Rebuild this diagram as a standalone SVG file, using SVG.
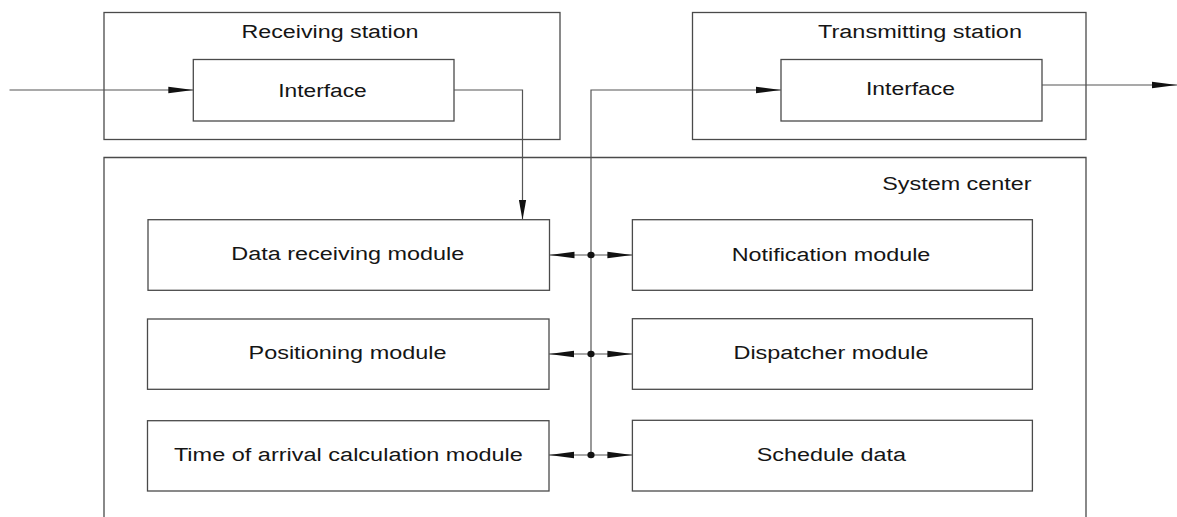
<svg xmlns="http://www.w3.org/2000/svg" width="1177" height="517" viewBox="0 0 1177 517">
  <style>
    .box { fill: none; stroke: #4a4a4a; stroke-width: 1.3; }
    .wire { fill: none; stroke: #555555; stroke-width: 1.2; }
    .lbl { font-family: "Liberation Sans", Arial, sans-serif; font-size: 17.6px; fill: #151515; text-anchor: middle; }
    .dot { fill: #111; }
  </style>
  <defs>
    <!-- wide, flat arrowhead for horizontal runs -->
    <marker id="arrowH" markerUnits="userSpaceOnUse" markerWidth="26" markerHeight="8" refX="25" refY="3.2" orient="auto-start-reverse" viewBox="0 0 26 6.4">
      <path d="M0,0 L25,3.2 L0,6.4 Z" fill="#111"/>
    </marker>
    <!-- arrowhead for the vertical drop -->
    <marker id="arrowV" markerUnits="userSpaceOnUse" markerWidth="21" markerHeight="8" refX="20" refY="3.7" orient="auto" viewBox="0 0 21 7.4">
      <path d="M0,0 L20,3.7 L0,7.4 Z" fill="#111"/>
    </marker>
  </defs>
  <rect width="1177" height="517" fill="#ffffff"/>

  <!-- Receiving station -->
  <g id="receiving-station">
    <rect class="box" x="104" y="12.5" width="456" height="127"/>
    <text class="lbl" x="330" y="38" textLength="177" lengthAdjust="spacingAndGlyphs">Receiving station</text>
  </g>
  <g id="rx-interface">
    <rect class="box" x="193.3" y="59.5" width="260.7" height="61.5"/>
    <text class="lbl" x="322.5" y="96.5" textLength="88.5" lengthAdjust="spacingAndGlyphs">Interface</text>
  </g>

  <!-- Transmitting station -->
  <g id="transmitting-station">
    <rect class="box" x="692.5" y="12.5" width="393.5" height="127"/>
    <text class="lbl" x="920" y="38" textLength="204" lengthAdjust="spacingAndGlyphs">Transmitting station</text>
  </g>
  <g id="tx-interface">
    <rect class="box" x="781" y="59.5" width="261" height="61.5"/>
    <text class="lbl" x="910.5" y="94.5" textLength="89" lengthAdjust="spacingAndGlyphs">Interface</text>
  </g>

  <!-- System center (open at the bottom) -->
  <g id="system-center">
    <path class="box" d="M104,520 V157.5 H1086 V520"/>
    <text class="lbl" x="1031.6" y="190" textLength="149.4" lengthAdjust="spacingAndGlyphs" style="text-anchor:end">System center</text>
  </g>

  <!-- Left column modules -->
  <g id="data-receiving-module">
    <rect class="box" x="148" y="219.7" width="401.5" height="70.6"/>
    <text class="lbl" x="347.8" y="260" textLength="233" lengthAdjust="spacingAndGlyphs">Data receiving module</text>
  </g>
  <g id="positioning-module">
    <rect class="box" x="147.5" y="319" width="401.5" height="70.3"/>
    <text class="lbl" x="347.5" y="359" textLength="198" lengthAdjust="spacingAndGlyphs">Positioning module</text>
  </g>
  <g id="arrival-time-module">
    <rect class="box" x="147.5" y="420.7" width="401.5" height="70.3"/>
    <text class="lbl" x="348.4" y="461" textLength="349" lengthAdjust="spacingAndGlyphs">Time of arrival calculation module</text>
  </g>

  <!-- Right column modules -->
  <g id="notification-module">
    <rect class="box" x="632.4" y="219.7" width="400" height="70.6"/>
    <text class="lbl" x="831" y="261" textLength="198.7" lengthAdjust="spacingAndGlyphs">Notification module</text>
  </g>
  <g id="dispatcher-module">
    <rect class="box" x="632.4" y="318.7" width="400" height="70.6"/>
    <text class="lbl" x="831" y="359" textLength="195" lengthAdjust="spacingAndGlyphs">Dispatcher module</text>
  </g>
  <g id="schedule-data">
    <rect class="box" x="632.4" y="420.3" width="400" height="70.7"/>
    <text class="lbl" x="831.4" y="461" textLength="149.4" lengthAdjust="spacingAndGlyphs">Schedule data</text>
  </g>

  <!-- Connectors -->
  <g id="connectors">
    <!-- external input into the receiving interface -->
    <line class="wire" x1="9.5" y1="90" x2="193.3" y2="90" marker-end="url(#arrowH)"/>
    <!-- receiving interface down to the data receiving module -->
    <path class="wire" d="M454,90 H522.5 V219.7" marker-end="url(#arrowV)"/>
    <!-- internal bus up to the transmitting interface -->
    <path class="wire" d="M591,455 V90 H781" marker-end="url(#arrowH)"/>
    <!-- transmitting interface output -->
    <line class="wire" x1="1042" y1="85" x2="1177" y2="85" marker-end="url(#arrowH)"/>
    <!-- bus taps, two-way -->
    <line class="wire" x1="549.5" y1="255" x2="632.4" y2="255" marker-start="url(#arrowH)" marker-end="url(#arrowH)"/>
    <line class="wire" x1="549" y1="354" x2="632.4" y2="354" marker-start="url(#arrowH)" marker-end="url(#arrowH)"/>
    <line class="wire" x1="549" y1="455" x2="632.4" y2="455" marker-start="url(#arrowH)" marker-end="url(#arrowH)"/>
    <ellipse class="dot" cx="591" cy="255" rx="3.6" ry="3.2"/>
    <ellipse class="dot" cx="591" cy="354" rx="3.6" ry="3.2"/>
    <ellipse class="dot" cx="591" cy="455" rx="3.6" ry="3.2"/>
  </g>
</svg>
